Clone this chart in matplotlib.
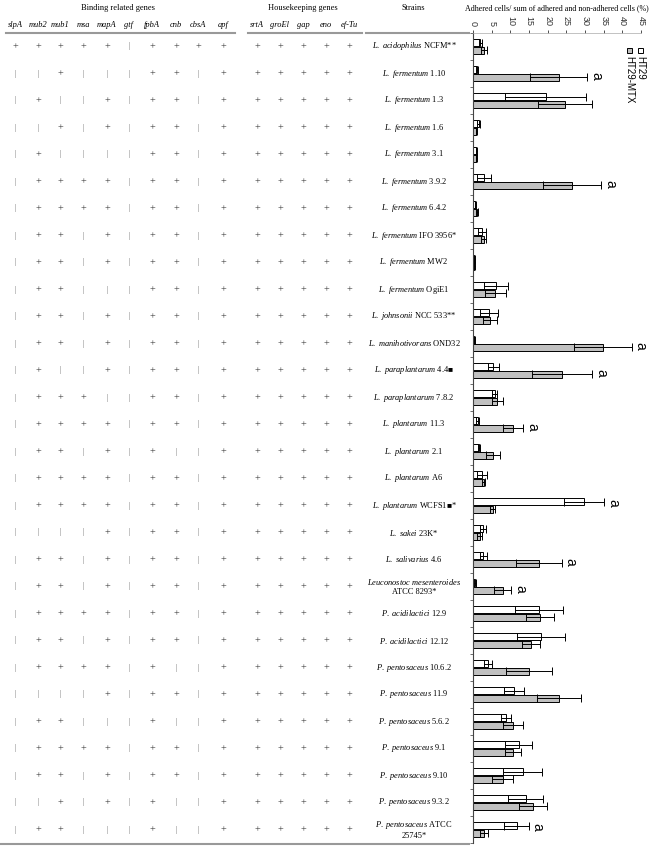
import numpy as np
import matplotlib
matplotlib.use("Agg")
import matplotlib.pyplot as plt
from matplotlib.transforms import blended_transform_factory
from matplotlib.patches import Rectangle

plt.rcParams['font.family'] = ['Liberation Serif', 'DejaVu Sans']
plt.rcParams['mathtext.fontset'] = 'custom'
plt.rcParams['mathtext.it'] = 'Liberation Serif:italic'
plt.rcParams['mathtext.rm'] = 'Liberation Serif'

# strains: (italic name, strain id)
strain_species = ["L. acidophilus", "L. fermentum", "L. fermentum", "L. fermentum", "L. fermentum",
                  "L. fermentum", "L. fermentum", "L. fermentum", "L. fermentum", "L. fermentum",
                  "L. johnsonii", "L. manihotivorans", "L. paraplantarum", "L. paraplantarum",
                  "L. plantarum", "L. plantarum", "L. plantarum", "L. plantarum", "L. sakei",
                  "L. salivarius", "Leuconostoc mesenteroides", "P. acidilactici", "P. acidilactici",
                  "P. pentosaceus", "P. pentosaceus", "P. pentosaceus", "P. pentosaceus",
                  "P. pentosaceus", "P. pentosaceus", "P. pentosaceus"]
strain_ids = ["NCFM**", "1.10", "1.3", "1.6", "3.1", "3.9.2", "6.4.2", "IFO 3956*", "MW2", "OgiE1",
              "NCC 533**", "OND32", "4.4\u25a0", "7.8.2", "11.3", "2.1", "A6", "WCFS1\u25a0*", "23K*",
              "4.6", "\nATCC 8293*", "12.9", "12.12", "10.6.2", "11.9", "5.6.2", "9.1", "9.10",
              "9.3.2", "ATCC\n25745*"]

binding_genes = ["slpA", "mub2", "mub1", "msa", "mapA", "gtf", "fpbA", "cnb", "cbsA", "apf"]
house_genes = ["srtA", "groEl", "gap", "eno", "ef-Tu"]

# presence (+) / absence (-) of binding related genes, one string per strain
binding = ["+++++-++++", "--+---++-+", "-+--+-++-+", "--+-+-++-+", "-+----++-+",
           "-++++-++-+", "-++++-++-+", "-++-+-++-+", "-++-+-++-+", "-++---++-+",
           "-++-+-++-+", "-++-+-++-+", "-+--+-++-+", "-+++--++-+", "-++++-++-+",
           "-++-+-+--+", "-++++-++-+", "-++++-++-+", "----+-++-+", "-++-+-++-+",
           "-++-+-++-+", "-++++-++-+", "-++-+-++-+", "-++++-+--+", "----+-++-+",
           "-++---+--+", "-++++-++-+", "-++-+-++-+", "--+-+-+--+", "-++---+--+"]
house = ["+++++"] * 30

ht29 = [2.0, 1.1, 19.5, 1.5, 0.9, 3.0, 0.6, 2.5, 0.4, 6.1, 4.3, 0.4, 5.4, 5.8, 1.3,
        1.6, 2.4, 29.7, 2.7, 2.8, 0.6, 17.7, 18.2, 4.1, 11.0, 8.9, 12.3, 13.3, 14.1, 11.7]
ht29_err = [0.5, 0.3, 10.9, 0.3, 0.2, 1.9, 0.1, 1.1, 0.1, 3.2, 2.4, 0.1, 1.5, 0.7, 0.4,
            0.3, 1.4, 5.4, 0.8, 1.0, 0.2, 6.4, 6.5, 1.1, 2.7, 1.4, 3.6, 5.2, 4.7, 3.3]
mtx = [3.0, 23.0, 24.6, 0.9, 0.9, 26.6, 1.0, 2.9, 0.4, 6.0, 4.5, 34.8, 23.8, 6.5, 10.7,
       5.4, 2.9, 5.3, 1.8, 17.7, 8.0, 17.9, 15.5, 15.0, 23.0, 10.7, 10.8, 8.0, 16.1, 2.9]
mtx_err = [0.8, 7.6, 7.3, 0.2, 0.2, 7.8, 0.3, 0.7, 0.1, 2.8, 1.8, 7.7, 8.1, 1.5, 2.7,
           1.9, 0.4, 0.7, 0.7, 6.1, 2.3, 3.8, 2.5, 6.2, 5.8, 2.7, 2.1, 2.8, 3.8, 1.1]
sig_rows = [1, 5, 11, 12, 14, 17, 19, 20, 29]

W, H = 659, 849
fig = plt.figure(figsize=(W / 100, H / 100), dpi=100)
ax = fig.add_axes([473 / W, 1 - 843 / H, (641 - 473) / W, (843 - 33) / H])

n = len(ht29)
y = np.arange(n)
bh = 0.27
ax.barh(y - 0.14, ht29, height=bh, color='white', edgecolor='black', lw=0.7, label='HT29')
ax.barh(y + 0.14, mtx, height=bh, color='#c0c0c0', edgecolor='black', lw=0.7, label='HT29-MTX')
ax.errorbar(ht29, y - 0.14, xerr=ht29_err, fmt='none', ecolor='black', elinewidth=0.7,
            capsize=2.6, capthick=0.7)
ax.errorbar(mtx, y + 0.14, xerr=mtx_err, fmt='none', ecolor='black', elinewidth=0.7,
            capsize=2.6, capthick=0.7)
for i in sig_rows:
    a1 = ht29[i] + ht29_err[i]
    a2 = mtx[i] + mtx_err[i]
    yy = y[i] - 0.1 if a1 > a2 else y[i] + 0.1
    ax.text(max(a1, a2) + 0.5, yy, 'a', rotation=-90, ha='left', va='center',
            family='Liberation Sans', fontsize=10)

ax.set_xlim(0, 45)
ax.set_ylim(n - 0.5, -0.5)
ax.xaxis.tick_top()
ax.set_xticks(np.arange(0, 46, 5))
ax.set_xticklabels([str(v) for v in range(0, 46, 5)], rotation=-90, family='Liberation Sans', fontsize=6.5)
ax.tick_params(axis='x', length=2, width=0.6, pad=3, colors='#333333')
ax.set_yticks(np.arange(-0.5, n, 1))
ax.set_yticklabels([])
ax.tick_params(axis='y', length=2.5, width=0.6, color='#555555')
for s in ['right', 'bottom']:
    ax.spines[s].set_visible(False)
ax.spines['top'].set_color('#aaaaaa')
ax.spines['top'].set_linewidth(0.5)
ax.spines['left'].set_linewidth(0.8)
ax.spines['left'].set_color('#444444')

# axis title
fig.text(557 / W, 1 - 8 / H, 'Adhered cells/ sum of adhered and non-adhered cells (%)',
         ha='center', va='center', fontsize=5.8)

# legend (rotated)
for xp, lab, col in [(640, 'HT29', 'white'), (629, 'HT29-MTX', '#c0c0c0')]:
    fig.patches.append(Rectangle(((xp - 2.5) / W, 1 - 53 / H), 5 / W, 5 / H, transform=fig.transFigure,
                                 facecolor=col, edgecolor='black', lw=0.7))
    fig.text(xp / W, 1 - 56 / H, lab, rotation=-90, ha='center', va='top',
             family='Liberation Sans', fontsize=7)

# table part
trans = blended_transform_factory(fig.transFigure, ax.transData)
bx = [15, 38, 60, 83, 107, 129, 152, 176, 198, 223]
hx = [257, 280, 303, 326, 349]
hdr_y = 1 - 25 / H
for g, xp in zip(binding_genes, bx):
    fig.text(xp / W, hdr_y, g, ha='center', va='center', fontsize=6, style='italic')
for g, xp in zip(house_genes, hx):
    fig.text(xp / W, hdr_y, g, ha='center', va='center', fontsize=6, style='italic')
fig.text(118 / W, 1 - 8 / H, 'Binding related genes', ha='center', va='center', fontsize=6)
fig.text(303 / W, 1 - 8 / H, 'Housekeeping genes', ha='center', va='center', fontsize=6)
fig.text(413 / W, 1 - 8 / H, 'Strains', ha='center', va='center', fontsize=6)


def mark(xp, yy, c):
    if c == '+':
        fig.text(xp / W, yy, '+', transform=trans, ha='center', va='center', fontsize=7.5, color='#333333')
    else:
        fig.text(xp / W, yy, '|', transform=trans, ha='center', va='center', fontsize=5.5, color='#666666')


for i in range(n):
    for xp, c in zip(bx, binding[i]):
        mark(xp, y[i], c)
    for xp, c in zip(hx, house[i]):
        mark(xp, y[i], c)
    sp = strain_species[i].replace(' ', r'\ ')
    sid = strain_ids[i]
    if sid.startswith('\n'):
        lab = '$\\mathit{' + sp + '}$' + sid
    elif '\n' in sid:
        first, second = sid.split('\n')
        lab = '$\\mathit{' + sp + '}$ ' + first + '\n' + second
    else:
        lab = '$\\mathit{' + sp + '}$ ' + sid
    fig.text(414 / W, y[i], lab, transform=trans, ha='center', va='center', fontsize=6,
             multialignment='center', linespacing=1.3)

# horizontal rules
for x0, x1 in [(6, 235), (248, 362), (366, 469)]:
    fig.add_artist(plt.Line2D([x0 / W, x1 / W], [1 - 33 / H, 1 - 33 / H], color='#999999', lw=1.5))
fig.add_artist(plt.Line2D([0, 469 / W], [1 - 844 / H, 1 - 844 / H], color='#999999', lw=1.5))

fig.savefig('out.png', dpi=100)
